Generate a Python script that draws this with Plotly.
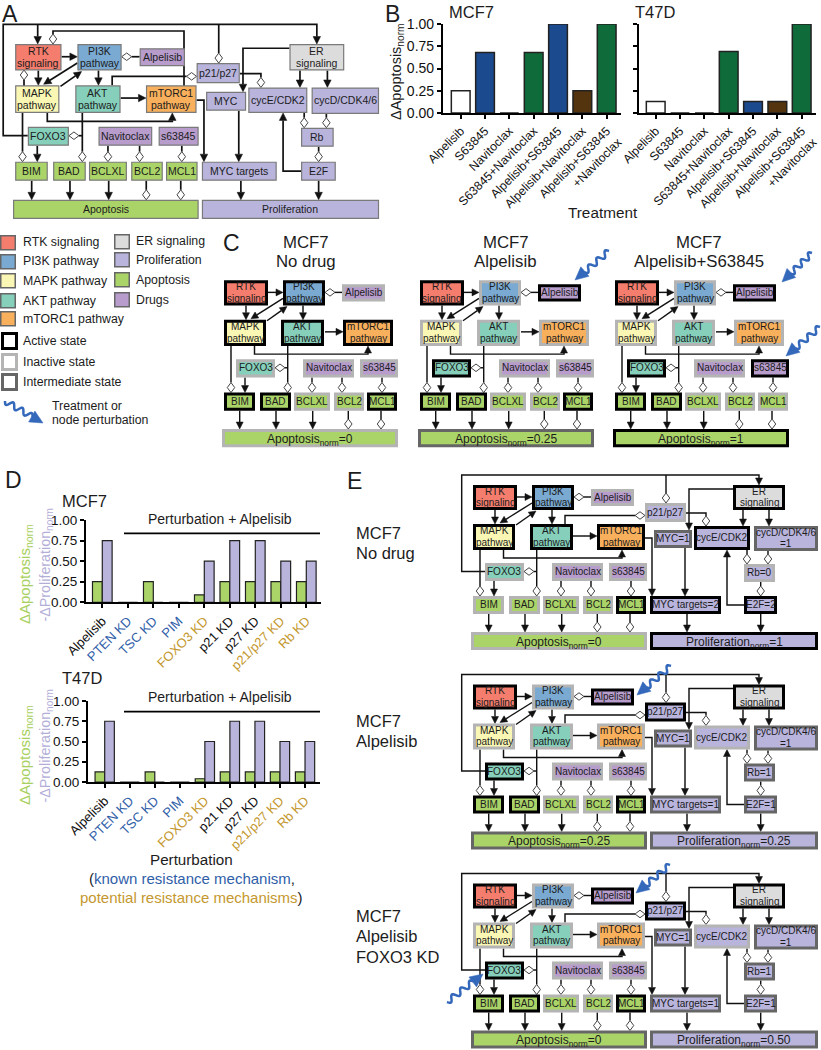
import math
import plotly.graph_objects as go

W, H = 821, 1050
FONT = "Liberation Sans"
INK = "#1c1c1c"

# ---------- chart data ----------
treatments = ["Alpelisib", "S63845", "Navitoclax", "S63845+Navitoclax", "Alpelisib+S63845",
              "Alpelisib+Navitoclax", "Alpelisib+S63845<br>+Navitoclax"]
mcf7_apoptosis = [0.25, 0.68, 0, 0.68, 1.0, 0.25, 1.0]
t47d_apoptosis = [0.13, 0, 0, 0.69, 0.13, 0.13, 1.0]
treatment_class = ["single_white", "single_blue", "single_blue", "combo_green", "combo_blue", "combo_brown", "combo_green"]

perturbations = ["Alpelisib", "PTEN KD", "TSC KD", "PIM", "FOXO3 KD", "p21 KD", "p27 KD", "p21/p27 KD", "Rb KD"]
perturbation_class = ["none", "known", "known", "known", "potential", "none", "none", "potential", "potential"]
mcf7_d_apoptosis = [0.25, 0, 0.25, 0, 0.09, 0.25, 0.25, 0.25, 0.25]
mcf7_d_proliferation = [0.75, 0, 0, 0, 0.50, 0.75, 0.75, 0.50, 0.50]
t47d_d_apoptosis = [0.125, 0, 0.125, 0, 0.04, 0.125, 0.125, 0.125, 0.125]
t47d_d_proliferation = [0.75, 0, 0, 0, 0.50, 0.75, 0.75, 0.50, 0.50]
axis_ticks = [0, 0.25, 0.5, 0.75, 1.0]
axis_tick_text = ["0.00", "0.25", "0.50", "0.75", "1.00"]

# ---------- styles ----------
CLASS_COL = {"single_white": "#ffffff", "single_blue": "#1c4a8e", "combo_green": "#0f6b3a",
             "combo_blue": "#1c4a8e", "combo_brown": "#54340f"}
LABEL_COL = {"none": "#111111", "known": "#2f5ea8", "potential": "#c4982e"}
C = dict(rtk="#f47d6d", pi3k="#7aaad2", drug="#b79ccc", mapk="#faf7b4", akt="#85cfbb",
         mtor="#f9b05c", er="#dcdcdc", prolif="#b9b4dc", apop="#abd468")
STATE = {"a": ("#000000", 3), "i": ("#b4b4b4", 3), "m": ("#666666", 3), "t": ("#7a7a7a", 1.2)}
BLUE = "#3468bb"

# ---------- network layout (local pixel coordinates) ----------
NODES = {
    "RTK": (33, 20, 77, 45, "rtk", ["RTK", "signaling"]),
    "PI3K": (92, 20, 134, 45, "pi3k", ["PI3K", "pathway"]),
    "Alpelisib": (151, 24, 194, 41, "drug", ["Alpelisib"]),
    "MAPK": (33, 59, 75, 85, "mapk", ["MAPK", "pathway"]),
    "AKT": (90, 59, 133, 85, "akt", ["AKT", "pathway"]),
    "mTORC1": (157, 59, 205, 85, "mtor", ["mTORC1", "pathway"]),
    "FOXO3": (45, 98, 84, 116, "akt", ["FOXO3"]),
    "Navitoclax": (112, 98, 163, 116, "drug", ["Navitoclax"]),
    "s63845": (169, 98, 207, 116, "drug", ["s63845"]),
    "BIM": (33, 131, 64, 149, "apop", ["BIM"]),
    "BAD": (69, 131, 100, 149, "apop", ["BAD"]),
    "BCLXL": (103, 131, 139, 149, "apop", ["BCLXL"]),
    "BCL2": (143, 131, 173, 149, "apop", ["BCL2"]),
    "MCL1": (176, 131, 206, 149, "apop", ["MCL1"]),
    "Apoptosis": (31, 167, 207, 185, "apop", ["Apoptosis"]),
    "p21": (205, 38, 246, 57, "prolif", ["p21/p27"]),
    "MYC": (214, 65, 252, 83, "prolif", ["MYC"]),
    "cycE": (254, 61, 310, 85, "prolif", ["cycE/CDK2"]),
    "cycD": (314, 61, 378, 86, "prolif", ["cycD/CDK4/6"]),
    "ER": (293, 20, 345, 45, "er", ["ER", "signaling"]),
    "Rb": (304, 99, 335, 117, "prolif", ["Rb"]),
    "MYCt": (210, 131, 281, 149, "prolif", ["MYC targets"]),
    "E2F": (304, 131, 337, 149, "prolif", ["E2F"]),
    "Proliferation": (210, 167, 378, 185, "prolif", ["Proliferation"]),
}
LEFT = ["RTK", "PI3K", "Alpelisib", "MAPK", "AKT", "mTORC1", "FOXO3", "Navitoclax", "s63845",
        "BIM", "BAD", "BCLXL", "BCL2", "MCL1", "Apoptosis"]

EDGES_LEFT = [
    ([(77, 32), (92, 32)], "a"),
    ([(151, 32), (134, 32)], "d"),
    ([(92, 38), (60, 58)], "a"),
    ([(76, 60), (96, 46)], "a"),
    ([(55, 45), (55, 59)], "a"),
    ([(112, 45), (112, 59)], "a"),
    ([(40, 85), (40, 131)], "d"),
    ([(96.7, 85), (96.7, 131)], "d"),
    ([(96.7, 106.5), (84, 106.5)], "d"),
    ([(54, 116), (54, 131)], "a"),
    ([(121, 116), (121, 131)], "d"),
    ([(151, 116), (151, 131)], "d"),
    ([(191, 116), (191, 131)], "d"),
    ([(48.7, 149), (48.7, 167)], "a"),
    ([(85, 149), (85, 167)], "a"),
    ([(121.7, 149), (121.7, 167)], "a"),
    ([(157.3, 149), (157.3, 167)], "d"),
    ([(190, 149), (190, 167)], "d"),
]
EDGES_MTOR = [
    ([(133, 71), (157, 71)], "a"),
    ([(63.5, 85), (63.5, 93), (182, 93), (182, 85)], "a"),
]
EDGES_MTOR_C = [
    ([(134, 71), (152, 71)], "a"),
    ([(63.5, 85), (63.5, 93), (177, 93), (177, 85)], "a"),
]
EDGES_RIGHT = [
    ([(45, 106.5), (21.7, 106.5), (21.7, 10), (319, 10), (319, 20)], "a"),
    ([(226, 10), (226, 38)], "d"),
    ([(125, 59), (125, 50.5), (205, 50.5)], "d"),
    ([(246, 48), (266, 48), (266, 61)], "d"),
    ([(293, 24), (249, 24), (249, 65)], "a"),
    ([(303, 45), (303, 61)], "a"),
    ([(329, 45), (329, 61)], "a"),
    ([(205, 73), (212, 73), (212, 131)], "a"),
    ([(245, 83), (245, 131)], "a"),
    ([(307, 85), (307, 99)], "d"),
    ([(328, 86), (328, 99)], "d"),
    ([(320.7, 117), (320.7, 131)], "d"),
    ([(304, 140), (287, 140), (287, 85)], "a"),
    ([(247, 149), (247, 167)], "a"),
    ([(320.7, 149), (320.7, 167)], "a"),
]

shapes, annotations = [], []
fx = lambda x: x / W
fy = lambda y: 1 - y / H


def text(x, y, s, size=10, color=INK, anchor="center", angle=0):
    if anchor == "left":
        x -= 2
    annotations.append(dict(x=fx(x), y=fy(y), xref="paper", yref="paper", text=s, showarrow=False,
                            xanchor=anchor, yanchor="middle", textangle=angle,
                            font=dict(family=FONT, size=size, color=color)))


def rect(x0, y0, x1, y1, fill, edge_col, lw):
    i = lw / 2
    shapes.append(dict(type="rect", xref="paper", yref="paper", x0=fx(x0 + i), x1=fx(x1 - i),
                       y0=fy(y0 + i), y1=fy(y1 - i), fillcolor=fill, line=dict(color=edge_col, width=lw)))


def path(points, fill=None, edge=INK, lw=1.2, close=False):
    d = "M" + " L".join(f"{fx(x):.5f},{fy(y):.5f}" for x, y in points) + (" Z" if close else "")
    shapes.append(dict(type="path", xref="paper", yref="paper", path=d,
                       fillcolor=fill or "rgba(0,0,0,0)", line=dict(color=edge, width=lw)))


def edge(points, kind, lw=1.45, alen=7, awid=7, dl=10, dw=7.5):
    (x1, y1), (x2, y2) = points[-2], points[-1]
    n = math.hypot(x2 - x1, y2 - y1) or 1
    ux, uy = (x2 - x1) / n, (y2 - y1) / n
    px_, py_ = -uy, ux
    if kind == "a":
        bx, by = x2 - ux * alen, y2 - uy * alen
        path(points[:-1] + [(bx, by)], lw=lw, edge="#111111")
        path([(x2, y2), (bx + px_ * awid / 2, by + py_ * awid / 2),
              (bx - px_ * awid / 2, by - py_ * awid / 2)], fill="#111111", edge="#111111", lw=0.5, close=True)
    else:
        bx, by = x2 - ux * dl, y2 - uy * dl
        path(points[:-1] + [(bx, by)], lw=lw, edge="#111111")
        cx, cy = x2 - ux * dl / 2, y2 - uy * dl / 2
        path([(x2, y2), (cx + px_ * dw / 2, cy + py_ * dw / 2), (bx, by),
              (cx - px_ * dw / 2, cy - py_ * dw / 2)], fill="#ffffff", edge="#444444", lw=1, close=True)


def network(names, edges, ox, oy, sx=1.0, sy=1.0, states=None, default="t", labels=None,
            overrides=None, size=10, outcome_size=12, top=None, lw=1.45, alen=7, awid=7):
    states, labels, overrides = states or {}, labels or {}, overrides or {}

    def T(p):
        x, y = p
        yy = top if (top is not None and y == 10) else oy + sy * y
        return (ox + sx * x, yy)

    for pts, kind in edges:
        edge([T(p) for p in pts], kind, lw=lw, alen=alen, awid=awid)
    for n in names:
        x0, y0, x1, y1, col, lines = NODES[n]
        if n in overrides:
            x0, y0, x1, y1 = overrides[n]
        e, blw = STATE[states.get(n, default)]
        rect(ox + sx * x0, oy + sy * y0, ox + sx * x1, oy + sy * y1, C[col], e, blw)
        lines = labels.get(n, lines)
        xc, yc = ox + sx * (x0 + x1) / 2, oy + sy * (y0 + y1) / 2
        big = n in ("Apoptosis", "Proliferation")
        fs = outcome_size if big else size
        step = fs * 1.14
        for k, s in enumerate(lines):
            shift = 1.5 if "<sub>" in s else -0.4
            text(xc, yc + shift + (k - (len(lines) - 1) / 2) * step, s, size=fs)


def squiggle(x0, y0, x1, y1, head=13, hw=12.5, amp=2.9, waves=3.0, lw=2.5):
    n = math.hypot(x1 - x0, y1 - y0)
    ux, uy = (x1 - x0) / n, (y1 - y0) / n
    L = n - head + 1
    pts = []
    for i in range(61):
        t = i / 60
        a = amp * math.sin(t * waves * 2 * math.pi)
        pts.append((x0 + ux * L * t - uy * a, y0 + uy * L * t + ux * a))
    path(pts, edge=BLUE, lw=lw)
    bx, by = x1 - ux * head, y1 - uy * head
    path([(x1, y1), (bx - uy * hw / 2, by + ux * hw / 2), (bx + uy * hw / 2, by - ux * hw / 2)],
         fill=BLUE, edge=BLUE, lw=0.5, close=True)


# ---------- panel A ----------
ALL = list(NODES)
AX, AY, ASX, ASY = -19.7, 22.8, 1.055, 1.06
edge([(37.7, 24.3), (37.7, 44)], "a", lw=1.7, alen=7.5, awid=7.5)
edge([(184, 86), (184, 31), (53, 31), (53, 44)], "d", lw=1.7)
edge([(24, 86), (24, 70)], "d", lw=1.7)
network(ALL, EDGES_LEFT + EDGES_MTOR + EDGES_RIGHT, AX, AY, ASX, ASY, size=10.5, outcome_size=10.5, top=24.3,
        lw=1.7, alen=7.5, awid=7.5)

# ---------- legend ----------
legend_left = [("RTK signaling", "rtk", 235, 241.7), ("PI3K pathway", "pi3k", 254, 261),
               ("MAPK pathway", "mapk", 273, 281), ("AKT pathway", "akt", 293, 301),
               ("mTORC1 pathway", "mtor", 311, 319)]
LEG = 12.3
for label, key, y, ty in legend_left:
    rect(0, y, 16, y + 15.5, C[key], "#666666", 1.5)
    text(23, ty, label, size=LEG, anchor="left")
legend_right = [("ER signaling", "er", 234, 241.5), ("Proliferation", "prolif", 252, 260),
                ("Apoptosis", "apop", 272, 279.5), ("Drugs", "drug", 292, 300)]
for label, key, y, ty in legend_right:
    rect(114, y, 130, y + 15.5, C[key], "#666666", 1.5)
    text(136, ty, label, size=LEG, anchor="left")
for label, st, y, ty in [("Active state", "a", 332, 341), ("Inactive state", "i", 353, 362),
                         ("Intermediate state", "m", 373, 382)]:
    rect(1, y, 18, y + 18, "#ffffff", STATE[st][0], 3)
    text(23, ty, label, size=LEG, anchor="left")
squiggle(5, 401, 43, 423)
text(52, 406, "Treatment or", size=LEG, anchor="left")
text(52, 419.5, "node perturbation", size=LEG, anchor="left")

# ---------- panel C ----------
C_EDGES = EDGES_LEFT + EDGES_MTOR_C
C_OVER = {"mTORC1": (152, 59, 202, 85)}
C_SY = 1.012
c1 = dict(RTK="a", PI3K="a", Alpelisib="i", MAPK="a", AKT="a", mTORC1="a", FOXO3="i", Navitoclax="i", s63845="i",
          BIM="a", BAD="a", BCLXL="i", BCL2="i", MCL1="a", Apoptosis="i")
c2 = dict(RTK="a", PI3K="i", Alpelisib="a", MAPK="i", AKT="i", mTORC1="i", FOXO3="a", Navitoclax="i", s63845="i",
          BIM="a", BAD="a", BCLXL="i", BCL2="i", MCL1="a", Apoptosis="m")
c3 = dict(RTK="a", PI3K="i", Alpelisib="a", MAPK="i", AKT="i", mTORC1="i", FOXO3="a", Navitoclax="i", s63845="a",
          BIM="a", BAD="a", BCLXL="i", BCL2="i", MCL1="i", Apoptosis="a")
for ox, st, val, t1, t2 in [(191, c1, "0", 306, "No drug"), (387, c2, "0.25", 505.5, "Alpelisib"),
                            (582, c3, "1", 699, "Alpelisib+S63845")]:
    network(LEFT, C_EDGES, ox, 260, 1.0, C_SY, states=st, overrides=C_OVER,
            labels={"Apoptosis": [f"Apoptosis<sub>norm</sub>={val}"]})
    text(t1, 242, "MCF7", size=16.8)
    text(t1, 262, t2, size=16.8)
squiggle(609, 251, 575, 280)
squiggle(812, 253, 782, 282)
squiggle(820, 327, 786, 356)

# ---------- panel E ----------
e_active_common = dict(RTK="a", ER="a", MYC="m", cycD="m", Navitoclax="i", s63845="i", BCLXL="i", BCL2="i", MCL1="a")
e1 = dict(e_active_common, PI3K="a", Alpelisib="i", MAPK="a", AKT="a", mTORC1="a", p21="i", cycE="a", FOXO3="i",
          Rb="i", BIM="i", BAD="i", MYCt="a", E2F="a", Apoptosis="i", Proliferation="a")
e2 = dict(e_active_common, PI3K="i", Alpelisib="a", MAPK="i", AKT="i", mTORC1="i", p21="a", cycE="i", FOXO3="a",
          Rb="m", BIM="a", BAD="a", MYCt="m", E2F="m", Apoptosis="m", Proliferation="m")
E_EDGES = EDGES_LEFT + EDGES_MTOR + EDGES_RIGHT
for oy, st, rb, tg, ef, ap, pr in [(465, e1, "0", "2", "2", "0", "1"),
                                   (664.5, e2, "1", "1", "1", "0.25", "0.25"),
                                   (863.5, e2, "1", "1", "1", "0", "0.50")]:
    network(ALL, E_EDGES, 440, oy, states=st, labels={
        "MYC": ["MYC=1"], "cycD": ["cycD/CDK4/6", "=1"], "Rb": [f"Rb={rb}"],
        "MYCt": [f"MYC targets={tg}"], "E2F": [f"E2F={ef}"],
        "Apoptosis": [f"Apoptosis<sub>norm</sub>={ap}"],
        "Proliferation": [f"Proliferation<sub>norm</sub>={pr}"]})
for y, s in [(533, "MCF7"), (553, "No drug"), (721, "MCF7"), (741, "Alpelisib"),
             (916, "MCF7"), (936, "Alpelisib"), (957, "FOXO3 KD")]:
    text(356, y, s, size=16.5, anchor="left")
squiggle(671, 666, 637, 695)
squiggle(670, 865, 636, 893)
squiggle(447, 1002, 483, 974)

# ---------- panel letters ----------
for x, y, s in [(2, 13.5, "A"), (385, 13.5, "B"), (223, 243, "C"), (5, 480, "D"), (347, 481, "E")]:
    text(x, y, s, size=23, anchor="left")

# ---------- bar charts ----------
fig = go.Figure()


def axis_pair(n, left, right, top, bottom, c0, c1_, labels, fs, show_y=True, ticklen=4):
    """Configure axes so that category 0 and 1 sit at pixels c0 and c1_."""
    step = c1_ - c0
    xr = [(left - c0) / step, (right - c0) / step]
    xa = dict(domain=[fx(left), fx(right)], range=xr, tickmode="array", tickvals=list(range(len(labels))),
              ticktext=labels, tickangle=-45, showgrid=False, zeroline=False, showline=True, linecolor="#000000",
              linewidth=2.2, ticks="outside", ticklen=ticklen, tickwidth=2, tickcolor="#000000",
              tickfont=dict(family=FONT, size=fs, color="#111111"), anchor=f"y{n}", automargin=False)
    ya = dict(domain=[fy(bottom), fy(top)], range=[0, 1], tickmode="array", tickvals=axis_ticks,
              ticktext=axis_tick_text, showticklabels=show_y,
              showgrid=False, zeroline=False, showline=True, linecolor="#000000", linewidth=2.2, ticks="outside",
              ticklen=ticklen, tickwidth=2, tickcolor="#000000", tickfont=dict(family=FONT, size=14, color="#111111"),
              anchor=f"x{n}", automargin=False)
    return {f"xaxis{n}": xa, f"yaxis{n}": ya}


axes = {}
axes.update(axis_pair(1, 443, 621, 24, 113, 460.7, 485.03, treatments, 12.2))
axes.update(axis_pair(2, 639, 816, 24, 113, 655.7, 680.03, treatments, 12.2, show_y=False))
pert_labels = [f'<span style="color:{LABEL_COL[c]}">{p}</span>' for p, c in zip(perturbations, perturbation_class)]
axes.update(axis_pair(3, 86, 321, 520, 602.3, 102.3, 127.8, pert_labels, 13))
axes.update(axis_pair(4, 88, 319.5, 701, 782, 104.7, 129.74, pert_labels, 13))
for k in ("yaxis3", "yaxis4"):
    axes[k]["tickfont"]["size"] = 13.5

for n, vals in [(1, mcf7_apoptosis), (2, t47d_apoptosis)]:
    fig.add_bar(x=list(range(len(treatments))), y=vals, xaxis=f"x{n}", yaxis=f"y{n}", width=0.77,
                marker=dict(color=[CLASS_COL[c] for c in treatment_class], line=dict(color="#222222", width=1.5)),
                showlegend=False)
for n, ap, pr in [(3, mcf7_d_apoptosis, mcf7_d_proliferation), (4, t47d_d_apoptosis, t47d_d_proliferation)]:
    fig.add_bar(x=list(range(len(perturbations))), y=ap, xaxis=f"x{n}", yaxis=f"y{n}", width=0.385, offset=-0.385,
                marker=dict(color=C["apop"], line=dict(color="#222222", width=1.2)), showlegend=False)
    fig.add_bar(x=list(range(len(perturbations))), y=pr, xaxis=f"x{n}", yaxis=f"y{n}", width=0.385, offset=0,
                marker=dict(color=C["prolif"], line=dict(color="#222222", width=1.2)), showlegend=False)

# ---------- panel B and D texts ----------
text(449, 12, "MCF7", size=16.5, anchor="left")
text(635, 12, "T47D", size=16.5, anchor="left")
text(603, 212, "Treatment", size=15.3)
text(397, 72, "ΔApoptosis<sub>norm</sub>", size=14.5, angle=-90)

text(62, 501, "MCF7", size=16.5, anchor="left")
text(62, 678, "T47D", size=16.5, anchor="left")
for y_line, y_text in [(533.3, 519), (711.7, 697)]:
    path([(124, y_line), (320, y_line)], edge="#000000", lw=1.8)
    text(220, y_text, "Perturbation + Alpelisib", size=14)
text(25, 574, "ΔApoptosis<sub>norm</sub>", size=15, color="#a8d060", angle=-90)
text(45.5, 565, "-ΔProliferation<sub>norm</sub>", size=14.3, color="#b3aed8", angle=-90)
text(25, 755, "ΔApoptosis<sub>norm</sub>", size=15, color="#a8d060", angle=-90)
text(45.5, 746, "-ΔProliferation<sub>norm</sub>", size=14.3, color="#b3aed8", angle=-90)
text(191.5, 859, "Perturbation", size=15.2)
text(191.5, 878, f'(<span style="color:{LABEL_COL["known"]}">known resistance mechanism</span>,', size=15)
text(191.5, 897, f'<span style="color:{LABEL_COL["potential"]}">potential resistance mechanisms</span>)', size=15)

fig.update_layout(width=W, height=H, margin=dict(l=0, r=0, t=0, b=0), paper_bgcolor="#ffffff",
                  plot_bgcolor="rgba(0,0,0,0)", barmode="overlay", shapes=shapes, annotations=annotations,
                  showlegend=False, font=dict(family=FONT), **axes)
fig.write_html("out.html", config=dict(displayModeBar=False), post_script="document.body.style.margin='0';")
